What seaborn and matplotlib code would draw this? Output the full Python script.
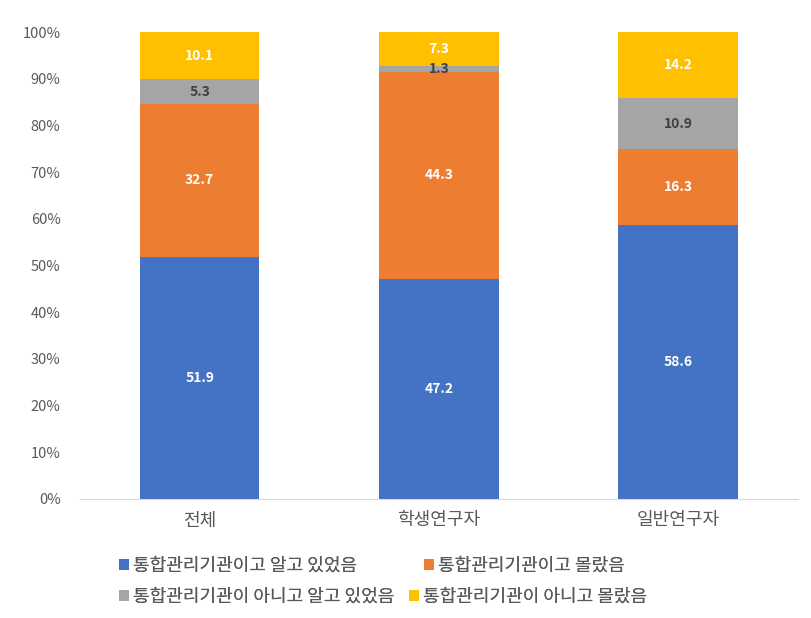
import numpy as np
import pandas as pd
import matplotlib
matplotlib.use("Agg")
import matplotlib.pyplot as plt
import seaborn as sns
from matplotlib.patches import Patch
from matplotlib.ticker import PercentFormatter

sns.set_style("white")
plt.rcParams['font.family'] = ['Noto Sans CJK KR', 'DejaVu Sans']

categories = ["전체", "학생연구자", "일반연구자"]
series_names = ["통합관리기관이고 알고 있었음", "통합관리기관이고 몰랐음",
                "통합관리기관이 아니고 알고 있었음", "통합관리기관이 아니고 몰랐음"]
known_yes = [51.9, 47.2, 58.6]
unknown_yes = [32.7, 44.3, 16.3]
known_no = [5.3, 1.3, 10.9]
unknown_no = [10.1, 7.3, 14.2]
colors = ["#4472C4", "#ED7D31", "#A5A5A5", "#FFC000"]
label_colors = ["white", "white", "#404040", "white"]

series = [known_yes, unknown_yes, known_no, unknown_no]

fig = plt.figure(figsize=(8.12, 6.18), dpi=100)
ax = fig.add_axes([80/812, (618-499)/618, (798-80)/812, (499-32)/618])

bottom = np.zeros(len(categories))
for vals, col, lc, name in zip(series, colors, label_colors, series_names):
    df = pd.DataFrame({"cat": categories, "val": vals})
    sns.barplot(data=df, x="cat", y="val", color=col, bottom=bottom, width=0.5,
                ax=ax, saturation=1, linewidth=0, errorbar=None)
    for i, v in enumerate(vals):
        ax.text(i, bottom[i] + v / 2, f"{v:.1f}", ha="center", va="center",
                color=lc, fontsize=10, fontweight="bold")
    bottom = bottom + np.array(vals)

ax.set_xlim(-0.5, 2.5)
ax.set_ylim(0, 100)
ax.set_yticks(np.arange(0, 101, 10))
ax.yaxis.set_major_formatter(PercentFormatter(decimals=0))
ax.set_xlabel("")
ax.set_ylabel("")
for s in ["top", "right", "left"]:
    ax.spines[s].set_visible(False)
ax.spines["bottom"].set_color("#D9D9D9")
ax.tick_params(axis="y", colors="#595959", labelsize=10.5, length=0, pad=14)
ax.tick_params(axis="x", colors="#595959", labelsize=13, length=0, pad=9)

# legend entries placed like the reference (two rows, flowing)
legend_pos = [(119, 566), (424, 566), (119, 597), (409, 597)]
for (px, py), c, name in zip(legend_pos, colors, series_names):
    leg = fig.legend([Patch(facecolor=c, edgecolor="none")], [name],
                     loc="center left", bbox_to_anchor=(px/812, 1 - py/618),
                     frameon=False, fontsize=13, handlelength=0.55, handleheight=0.55,
                     handletextpad=0.25, borderpad=0, borderaxespad=0,
                     labelcolor="#595959")
    fig.add_artist(leg)

fig.savefig("out.png", dpi=100)
